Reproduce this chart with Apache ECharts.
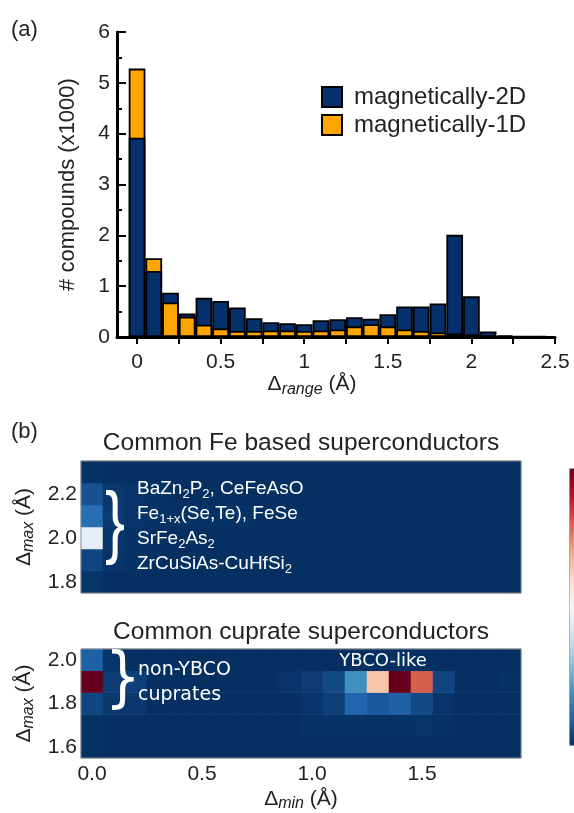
<html>
<head>
<meta charset="utf-8">
<script src="https://cdn.jsdelivr.net/npm/echarts@6/dist/echarts.min.js"></script>
<style>
html, body { margin: 0; padding: 0; background: #fff; }
#main { width: 574px; height: 813px; }
</style>
</head>
<body>
<div id="main"></div>
<script>
// ---- panel (a): histogram of Delta_range (counts x1000) ----
var binCenters = [0, 0.1, 0.2, 0.3, 0.4, 0.5, 0.6, 0.7, 0.8, 0.9, 1.0, 1.1, 1.2,
    1.3, 1.4, 1.5, 1.6, 1.7, 1.8, 1.9, 2.0, 2.1, 2.2, 2.3, 2.4];
var mag2D = [3.92, 1.30, 0.87, 0.46, 0.77, 0.71, 0.58, 0.37, 0.29, 0.27, 0.25, 0.33, 0.35,
    0.39, 0.36, 0.45, 0.60, 0.60, 0.66, 2.01, 0.80, 0.11, 0.03, 0.01, 0.01];
var mag1D = [5.28, 1.55, 0.68, 0.40, 0.24, 0.17, 0.12, 0.12, 0.13, 0.13, 0.12, 0.13, 0.15,
    0.21, 0.25, 0.21, 0.15, 0.12, 0.09, 0.07, 0.05, 0.02, 0.01, 0.005, 0.005];
var xTickValues = [0, 0.25, 0.5, 0.75, 1, 1.25, 1.5, 1.75, 2, 2.25, 2.5];
var xLabelValues = [0, 0.5, 1, 1.5, 2, 2.5];

// ---- panel (b): heatmaps, Delta_min columns x Delta_max rows ----
var minCats = ['0.0', '0.1', '0.2', '0.3', '0.4', '0.5', '0.6', '0.7', '0.8', '0.9',
    '1.0', '1.1', '1.2', '1.3', '1.4', '1.5', '1.6', '1.7', '1.8', '1.9'];
var feMaxCats = ['1.8', '1.9', '2.0', '2.1', '2.2', '2.3'];
var cuMaxCats = ['1.6', '1.7', '1.8', '1.9', '2.0'];

// rows listed bottom (lowest Delta_max) to top
var feRows = [
    [0.01, 0, 0, 0, 0, 0, 0, 0, 0, 0, 0, 0, 0, 0, 0, 0, 0, 0, 0, 0],
    [0.04, 0.01, 0.005, 0, 0, 0, 0, 0, 0, 0, 0, 0, 0, 0, 0, 0, 0, 0, 0, 0],
    [0.45, 0.01, 0.005, 0, 0, 0, 0, 0, 0, 0, 0, 0, 0, 0, 0, 0, 0, 0, 0, 0],
    [0.12, 0.02, 0.01, 0.005, 0.005, 0.005, 0.005, 0.005, 0, 0, 0, 0, 0, 0, 0, 0, 0, 0, 0, 0],
    [0.065, 0.015, 0.01, 0.005, 0, 0, 0, 0, 0, 0, 0, 0, 0, 0, 0, 0, 0, 0, 0, 0],
    [0.005, 0, 0, 0, 0, 0, 0, 0, 0, 0, 0, 0, 0, 0, 0, 0, 0, 0, 0, 0]
];
var cuRows = [
    [0.005, 0, 0, 0, 0, 0, 0, 0, 0, 0, 0, 0, 0, 0, 0, 0, 0, 0, 0, 0],
    [0.005, 0, 0, 0, 0, 0, 0, 0, 0, 0, 0.005, 0.005, 0.005, 0.005, 0.005, 0.008, 0.005, 0, 0, 0],
    [0.04, 0.015, 0.015, 0, 0, 0, 0, 0, 0, 0, 0.01, 0.03, 0.1, 0.08, 0.09, 0.05, 0.01, 0, 0, 0],
    [1.0, 0.02, 0.03, 0, 0, 0, 0, 0, 0, 0.01, 0.02, 0.05, 0.19, 0.64, 1.0, 0.8, 0.04, 0, 0, 0.005],
    [0.09, 0.01, 0, 0, 0, 0, 0, 0, 0, 0, 0, 0, 0, 0, 0, 0, 0, 0, 0, 0]
];
var rdbuR = ['#053061', '#2166ac', '#4393c3', '#92c5de', '#d1e5f0', '#f7f7f7',
    '#fddbc7', '#f4a582', '#d6604d', '#b2182b', '#67001f'];

var BLUE = '#06306b';
var ORANGE = '#ffa500';
var FONT = 'Liberation Sans';

var myChart = echarts.init(document.getElementById('main'));

// bars overlap: the taller one sits behind, the shorter one in front
var backData = [], frontData = [];
for (var i = 0; i < binCenters.length; i++) {
    var blueTaller = mag2D[i] >= mag1D[i];
    backData.push({
        value: [binCenters[i], Math.max(mag2D[i], mag1D[i])],
        itemStyle: { color: blueTaller ? BLUE : ORANGE }
    });
    frontData.push({
        value: [binCenters[i], Math.min(mag2D[i], mag1D[i])],
        itemStyle: { color: blueTaller ? ORANGE : BLUE }
    });
}

function heatData(rows) {
    var out = [];
    for (var r = 0; r < rows.length; r++) {
        for (var c = 0; c < rows[r].length; c++) {
            out.push([c, r, rows[r][c]]);
        }
    }
    return out;
}

var tickLabel = { fontSize: 21, color: '#222', fontFamily: FONT };
var subRich = {
    d: { fontSize: 21, color: '#222', fontFamily: FONT, lineHeight: 26 },
    s: { fontSize: 16, color: '#222', fontFamily: FONT, fontStyle: 'italic', verticalAlign: 'bottom', lineHeight: 26 }
};
var annRich = {
    n: { fontSize: 19, fill: '#fff', fontFamily: FONT, lineHeight: 24 },
    s: { fontSize: 13, fill: '#fff', fontFamily: FONT, verticalAlign: 'bottom', lineHeight: 24 }
};

var barBase = {
    type: 'bar',
    xAxisIndex: 0,
    yAxisIndex: 0,
    barWidth: 16.7,
    barGap: '-100%',
    silent: true,
    itemStyle: { borderColor: '#000', borderWidth: 1.8 }
};

function heatmapGridAxisY(idx, cats, nameGap) {
    return {
        type: 'category',
        gridIndex: idx,
        data: cats,
        axisLine: { show: false },
        axisTick: { show: false },
        axisLabel: Object.assign({ interval: 1, margin: 4 }, tickLabel),
        name: '{d|Δ}{s|max}{d| (Å)}',
        nameLocation: 'middle',
        nameRotate: 90,
        nameGap: nameGap,
        nameTextStyle: { rich: subRich }
    };
}

option = {
    animation: false,
    backgroundColor: '#fff',
    grid: [
        { left: 117, top: 32, width: 438, height: 305 },
        { left: 81, top: 461, width: 440, height: 132, show: true, borderColor: '#888', borderWidth: 1, z: 10, backgroundColor: 'transparent' },
        { left: 81, top: 649, width: 440, height: 110, show: true, borderColor: '#888', borderWidth: 1, z: 10, backgroundColor: 'transparent' }
    ],
    xAxis: [
        {
            type: 'value',
            gridIndex: 0,
            min: -0.12,
            max: 2.5,
            splitLine: { show: false },
            axisLine: { show: true, onZero: false, lineStyle: { color: '#000', width: 3 } },
            axisTick: { show: true, customValues: xTickValues, length: 7, lineStyle: { color: '#000', width: 2 } },
            axisLabel: Object.assign({ customValues: xLabelValues, margin: 15 }, tickLabel),
            name: '{d|Δ}{s|range}{d| (Å)}',
            nameLocation: 'middle',
            nameGap: 33,
            nameTextStyle: { rich: subRich, padding: [0, 48, 0, 0] }
        },
        {
            type: 'category',
            gridIndex: 1,
            data: minCats,
            axisLine: { show: false },
            axisTick: { show: false },
            axisLabel: { show: false }
        },
        {
            type: 'category',
            gridIndex: 2,
            data: minCats,
            axisLine: { show: false },
            axisTick: { show: false },
            axisLabel: Object.assign({ interval: 4, margin: 6 }, tickLabel),
            name: '{d|Δ}{s|min}{d| (Å)}',
            nameLocation: 'middle',
            nameGap: 28,
            nameTextStyle: { rich: subRich }
        }
    ],
    yAxis: [
        {
            type: 'value',
            gridIndex: 0,
            min: 0,
            max: 6,
            interval: 1,
            splitLine: { show: false },
            axisLine: { show: true, onZero: false, lineStyle: { color: '#000', width: 3 } },
            axisTick: { show: true, inside: true, length: 9, lineStyle: { color: '#000', width: 2 } },
            minorTick: { show: true, splitNumber: 2, length: 5, lineStyle: { color: '#000', width: 2 } },
            axisLabel: Object.assign({ margin: 7 }, tickLabel),
            name: '# compounds (x1000)',
            nameLocation: 'middle',
            nameRotate: 90,
            nameGap: 38,
            nameTextStyle: { fontSize: 22, color: '#222', fontFamily: FONT }
        },
        heatmapGridAxisY(1, feMaxCats, 42),
        heatmapGridAxisY(2, cuMaxCats, 42)
    ],
    legend: {
        orient: 'vertical',
        left: 316,
        top: 80,
        itemWidth: 20,
        itemHeight: 20,
        itemGap: 4,
        icon: 'rect',
        selectedMode: false,
        data: ['magnetically-2D', 'magnetically-1D'],
        itemStyle: { borderColor: '#000', borderWidth: 2 },
        textStyle: { fontSize: 24, color: '#222', fontFamily: FONT, padding: [0, 0, 0, 7] }
    },
    visualMap: {
        type: 'continuous',
        min: 0,
        max: 1,
        seriesIndex: [4, 5],
        calculable: false,
        hoverLink: false,
        left: 569,
        top: 468,
        itemWidth: 20,
        itemHeight: 277,
        padding: 0,
        borderColor: '#999',
        borderWidth: 1,
        inRange: { color: rdbuR }
    },
    series: [
        Object.assign({ name: 'back', data: backData, z: 2 }, barBase),
        Object.assign({ name: 'front', data: frontData, z: 3 }, barBase),
        Object.assign({}, barBase, { name: 'magnetically-2D', data: [], itemStyle: { color: BLUE, borderColor: '#000', borderWidth: 2 } }),
        Object.assign({}, barBase, { name: 'magnetically-1D', data: [], itemStyle: { color: ORANGE, borderColor: '#000', borderWidth: 2 } }),
        {
            type: 'heatmap',
            xAxisIndex: 1,
            yAxisIndex: 1,
            silent: true,
            data: heatData(feRows)
        },
        {
            type: 'heatmap',
            xAxisIndex: 2,
            yAxisIndex: 2,
            silent: true,
            data: heatData(cuRows)
        }
    ],
    graphic: [
        { type: 'text', style: { text: '(a)', x: 11, y: 30, font: '22px ' + FONT, fill: '#222', textVerticalAlign: 'middle' } },
        { type: 'text', style: { text: '(b)', x: 11, y: 432, font: '22px ' + FONT, fill: '#222', textVerticalAlign: 'middle' } },
        { type: 'text', style: { text: 'Common Fe based superconductors', x: 301, y: 443, font: '24.5px ' + FONT, fill: '#222', textAlign: 'center', textVerticalAlign: 'middle' } },
        { type: 'text', style: { text: 'Common cuprate superconductors', x: 301, y: 632, font: '24.5px ' + FONT, fill: '#222', textAlign: 'center', textVerticalAlign: 'middle' } },
        // Fe annotations
        { type: 'text', x: 105, y: 526, scaleX: 0.75, z: 100, style: { text: '}', x: 0, y: 0, font: '80px ' + FONT, fill: '#fff', textVerticalAlign: 'middle' } },
        { type: 'text', z: 100, style: { text: '{n|BaZn}{s|2}{n|P}{s|2}{n|, CeFeAsO}', rich: annRich, x: 137, y: 489, textVerticalAlign: 'middle' } },
        { type: 'text', z: 100, style: { text: '{n|Fe}{s|1+x}{n|(Se,Te), FeSe}', rich: annRich, x: 137, y: 514, textVerticalAlign: 'middle' } },
        { type: 'text', z: 100, style: { text: '{n|SrFe}{s|2}{n|As}{s|2}', rich: annRich, x: 137, y: 539, textVerticalAlign: 'middle' } },
        { type: 'text', z: 100, style: { text: '{n|ZrCuSiAs-CuHfSi}{s|2}', rich: annRich, x: 137, y: 564, textVerticalAlign: 'middle' } },
        // cuprate annotations
        { type: 'text', x: 105, y: 682, scaleX: 0.85, z: 100, style: { text: '}', x: 0, y: 0, font: '66px DejaVu Sans', fill: '#fff', textVerticalAlign: 'middle' } },
        { type: 'text', z: 100, style: { text: 'non-YBCO', x: 138, y: 670, font: '19px DejaVu Sans', fill: '#fff', textVerticalAlign: 'middle' } },
        { type: 'text', z: 100, style: { text: 'cuprates', x: 138, y: 695, font: '19px DejaVu Sans', fill: '#fff', textVerticalAlign: 'middle' } },
        { type: 'text', z: 100, style: { text: 'YBCO-like', x: 383, y: 661, font: '18px DejaVu Sans', fill: '#fff', textAlign: 'center', textVerticalAlign: 'middle' } }
    ]
};

myChart.setOption(option);
</script>
</body>
</html>
